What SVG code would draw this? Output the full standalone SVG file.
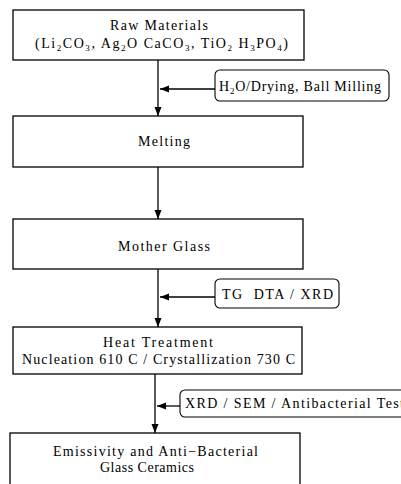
<svg xmlns="http://www.w3.org/2000/svg" width="401" height="484" viewBox="0 0 401 484">
<style>
.box{fill:#fff;stroke:#000;stroke-width:1.3}
.lbl{fill:#fff;stroke:#000;stroke-width:1.1}
.t{font-family:"Liberation Serif","Times New Roman",serif;font-size:14px;fill:#000}
.c{stroke:#000;stroke-width:1.3;fill:none}
</style>
<defs>
<marker id="ah" markerUnits="userSpaceOnUse" markerWidth="10" markerHeight="8" refX="9" refY="3.5" orient="auto">
<path d="M0,0 L9,3.5 L0,7 z" fill="#000"/>
</marker>
</defs>
<rect width="401" height="484" fill="#fff"/>
<g id="raw">
<rect class="box" x="13" y="10" width="291" height="50"/>
<text class="t" x="110" y="30" textLength="98" lengthAdjust="spacing">Raw Materials</text>
<text class="t" x="35" y="48" textLength="253" lengthAdjust="spacing">(Li<tspan font-size="9" dy="3">2</tspan><tspan dy="-3">CO</tspan><tspan font-size="9" dy="3">3</tspan><tspan dy="-3">, Ag</tspan><tspan font-size="9" dy="3">2</tspan><tspan dy="-3">O CaCO</tspan><tspan font-size="9" dy="3">3</tspan><tspan dy="-3">, TiO</tspan><tspan font-size="9" dy="3">2</tspan><tspan dy="-3"> H</tspan><tspan font-size="9" dy="3">3</tspan><tspan dy="-3">PO</tspan><tspan font-size="9" dy="3">4</tspan><tspan dy="-3">)</tspan></text>
</g>
<g id="h2o">
<rect class="lbl" x="215" y="70" width="174" height="31" rx="5"/>
<text class="t" x="219" y="91" textLength="162" lengthAdjust="spacing">H<tspan font-size="9" dy="3">2</tspan><tspan dy="-3">O/Drying, Ball Milling</tspan></text>
</g>
<g id="melting">
<rect class="box" x="13" y="116" width="290" height="51"/>
<text class="t" x="138" y="146" textLength="52" lengthAdjust="spacing">Melting</text>
</g>
<g id="mother">
<rect class="box" x="13" y="219" width="290" height="50"/>
<text class="t" x="118" y="251" textLength="92" lengthAdjust="spacing">Mother Glass</text>
</g>
<g id="tg">
<rect class="lbl" x="215" y="279" width="124" height="29" rx="5"/>
<text class="t" x="222" y="299" textLength="111" lengthAdjust="spacing" xml:space="preserve">TG  DTA / XRD</text>
</g>
<g id="heat">
<rect class="box" x="13" y="327" width="289" height="47"/>
<text class="t" x="103" y="347" textLength="110" lengthAdjust="spacing">Heat Treatment</text>
<text class="t" x="22" y="364" textLength="273" lengthAdjust="spacing">Nucleation 610 C / Crystallization 730 C</text>
</g>
<g id="xrd">
<rect class="lbl" x="180" y="390" width="240" height="27" rx="5"/>
<text class="t" x="185" y="408" textLength="219" lengthAdjust="spacing">XRD / SEM / Antibacterial Test</text>
</g>
<g id="final">
<rect class="box" x="10" y="433" width="290" height="60"/>
<text class="t" x="53" y="456" textLength="205" lengthAdjust="spacing">Emissivity and Anti−Bacterial</text>
<text class="t" x="100" y="472" textLength="94" lengthAdjust="spacing">Glass Ceramics</text>
</g>
<g id="connectors">
<line class="c" x1="158" y1="60" x2="158" y2="116" marker-end="url(#ah)"/>
<line class="c" x1="158" y1="167" x2="158" y2="219" marker-end="url(#ah)"/>
<line class="c" x1="158" y1="269" x2="158" y2="327" marker-end="url(#ah)"/>
<line class="c" x1="155" y1="374" x2="155" y2="433" marker-end="url(#ah)"/>
<line class="c" x1="215" y1="89" x2="160" y2="89" marker-end="url(#ah)"/>
<line class="c" x1="215" y1="297" x2="160" y2="297" marker-end="url(#ah)"/>
<line class="c" x1="180" y1="406" x2="157" y2="406" marker-end="url(#ah)"/>
</g>
</svg>
